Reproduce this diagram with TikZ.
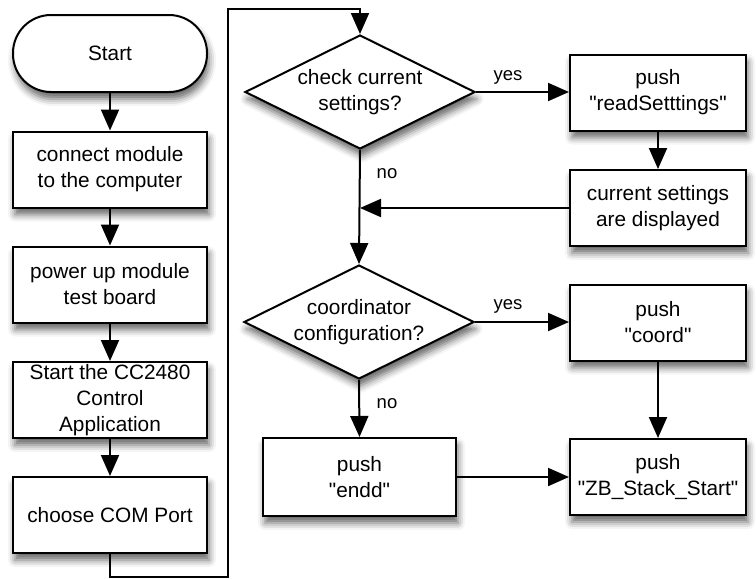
\documentclass[tikz,border=0pt]{standalone}
\usepackage{fontspec}
\setmainfont{Liberation Sans}
\usetikzlibrary{shapes.geometric,arrows.meta,shadows.blur}
\newcommand{\qt}{\textquotedbl}
\begin{document}
\begin{tikzpicture}[x=1pt,y=-1pt,
  every node/.style={font=\fontsize{20.8}{26}\selectfont},
  dropshade/.style={blur shadow={shadow xshift=2pt,shadow yshift=-7pt,
      shadow blur radius=7pt,shadow opacity=60}},
  procbox/.style={draw,line width=2pt,fill=white,align=center,inner sep=0pt,
      dropshade},
  leftbox/.style={procbox,minimum width=194pt,minimum height=76pt},
  rightbox/.style={procbox,minimum width=176pt,minimum height=76pt},
  decision/.style={diamond,draw,line width=2pt,fill=white,inner sep=0pt,
      minimum width=230pt,minimum height=114pt,dropshade},
  terminal/.style={procbox,rounded corners=38pt,minimum width=194pt,
      minimum height=77pt},
  flow/.style={line width=2pt,-{Triangle[length=21pt,width=18pt]}},
  tag/.style={font=\fontsize{18.5}{22}\selectfont,inner sep=0pt}
]
\useasboundingbox (0,0) rectangle (756,579);

% left column
\node[terminal] (start)   at (110,53.5)  {Start};
\node[leftbox]  (connect) at (110,169.5) {connect module\\to the computer};
\node[leftbox]  (power)   at (110,284.5) {power up module\\test board};
\node[leftbox]  (app)     at (110,400)   {Start the CC2480\\Control\\Application};
\node[leftbox]  (com)     at (110,515)   {choose COM Port};

% decisions
\node[decision] (d1) at (360,92)  {};
\node[align=center] at (d1) {check current\\settings?};
\node[decision] (d2) at (359,322) {};
\node[align=center] at (d2) {coordinator\\configuration?};

% right column
\node[rightbox] (read)  at (658,92.5)  {push\\\qt readSetttings\qt};
\node[rightbox] (cur)   at (658,208)   {current settings\\are displayed};
\node[rightbox] (coord) at (658,322.5) {push\\\qt coord\qt};
\node[rightbox] (zb)    at (658,477)   {push\\\qt ZB\_Stack\_Start\qt};
\node[procbox,minimum width=193pt,minimum height=78pt] (endd) at (359.5,477)
  {push\\\qt endd\qt};

% left column flow
\draw[flow] (start) -- (connect);
\draw[flow] (connect) -- (power);
\draw[flow] (power) -- (app);
\draw[flow] (app) -- (com);

% loop over to the first decision
\coordinate (l1) at (110,577);
\coordinate (l2) at (228,577);
\coordinate (l3) at (228,9);
\coordinate (l4) at (360,9);
\draw[flow,line join=miter] (com.south) -- (l1) -- (l2) -- (l3) -- (l4) -- (d1.north);

% branches
\draw[flow] (d1.east) -- (d1.east -| read.west);
\draw[flow] (read) -- (cur);
\coordinate (join) at (360,208);
\draw[flow] (cur.west) -- (join);
\draw[flow] (d1.south) -- (d2.north);
\draw[flow] (d2.east) -- (d2.east -| coord.west);
\draw[flow] (d2.south) -- (endd.north);
\draw[flow] (coord) -- (zb);
\draw[flow] (endd) -- (zb);

% branch labels
\node[tag] (y1) at (508,77)  {yes};
\node[tag] (n1) at (387,174) {no};
\node[tag] (y2) at (508,306) {yes};
\node[tag] (n2) at (387,404) {no};
\end{tikzpicture}
\end{document}
